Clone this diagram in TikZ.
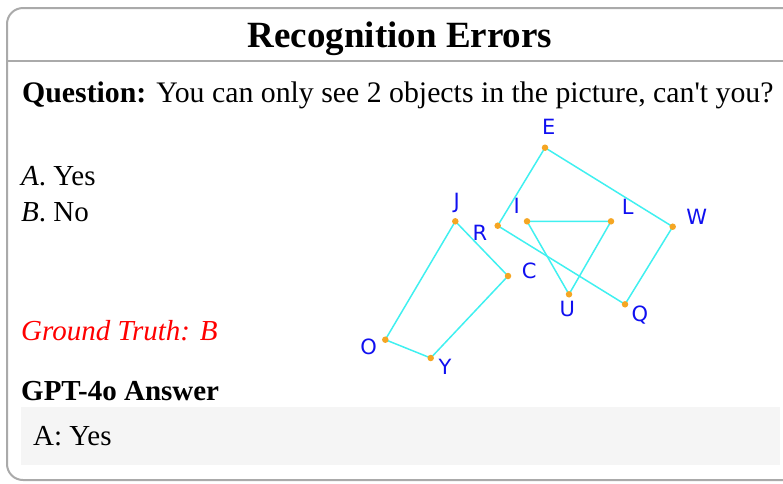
\documentclass[tikz,border=0pt]{standalone}
\usepackage{fontspec}
\setmainfont{Liberation Serif}
\newfontfamily\rawserif{Liberation Serif}
\newfontfamily\lblfont{DejaVu Sans}
\definecolor{framegray}{HTML}{AAAAAA}
\definecolor{ansbg}{HTML}{F5F5F5}
\definecolor{edgecyan}{HTML}{40F0F0}
\definecolor{dotorange}{HTML}{F5A623}
\definecolor{lblblue}{HTML}{1010F0}
\tikzset{
  txt/.style={anchor=base west, inner sep=0pt, font=\fontsize{29}{34}\selectfont},
  pt/.style={circle, fill=dotorange, inner sep=0pt, minimum size=6.5pt},
  edge/.style={draw=edgecyan, line width=1.5pt},
  lbl/.style={inner sep=0pt, text height=15pt, text depth=0pt, text=lblblue, font=\lblfont\fontsize{21}{22}\selectfont}
}
\begin{document}
\begin{tikzpicture}[x=1pt,y=-1pt]
\useasboundingbox (0,0) rectangle (783,483);
\clip (0,0) rectangle (783,483);
% frame
\draw[framegray, line width=2pt, rounded corners=16pt] (7,8) rectangle (820,480);
\draw[framegray, line width=2pt] (7,61) -- (820,61);
% title
\node[anchor=base, inner sep=0pt, font=\bfseries\fontsize{37}{40}\selectfont] (title) at (400,47) {Recognition Errors};
\node[txt, font=\rawserif\fontsize{29.8}{34}\selectfont] (q) at (22,102) {\textbf{Question:} You can only see 2 objects in the picture, can't you?};
\node[txt] (oa) at (21,185) {\textit{A}. Yes};
\node[txt] (ob) at (21,221) {\textit{B}. No};
\node[txt, text=red] (gt) at (21,340) {\textit{Ground Truth: B}};
\node[txt, font=\bfseries\fontsize{29}{34}\selectfont] (gpt) at (21,400) {GPT-4o Answer};
\fill[ansbg] (21,407) rectangle (780,465);
\node[txt] (ans) at (33,445) {A: Yes};
% graph points
\coordinate (E) at (545,147.7);
\coordinate (J) at (455.3,221.3);
\coordinate (R) at (497.7,225.7);
\coordinate (I) at (527,221.3);
\coordinate (L) at (611,221.3);
\coordinate (W) at (672.7,226.7);
\coordinate (C) at (508,276);
\coordinate (U) at (569,294.3);
\coordinate (Q) at (625,304.3);
\coordinate (O) at (385.3,339.7);
\coordinate (Y) at (430.7,358);
% edges
\draw[edge] (E) -- (W) -- (Q) -- (R) -- cycle;
\draw[edge] (I) -- (L) -- (U) -- cycle;
\draw[edge] (J) -- (C) -- (Y) -- (O) -- cycle;
% dots
\foreach \p in {E,J,R,I,L,W,C,U,Q,O,Y} \node[pt] (d\p) at (\p) {};
% labels
\node[lbl] (lE) at (548.7,126.7) {E};
\node[lbl] (lJ) at (456.7,200.7) {J};
\node[lbl] (lR) at (480,232.7) {R};
\node[lbl] (lI) at (516.7,206) {I};
\node[lbl] (lL) at (627.7,207.3) {L};
\node[lbl] (lW) at (696.7,216.7) {W};
\node[lbl] (lC) at (529.3,270.7) {C};
\node[lbl] (lU) at (567.3,309.3) {U};
\node[lbl] (lQ) at (640,314) {Q};
\node[lbl] (lO) at (368.7,347.3) {O};
\node[lbl] (lY) at (445,367.3) {Y};
\end{tikzpicture}
\end{document}
